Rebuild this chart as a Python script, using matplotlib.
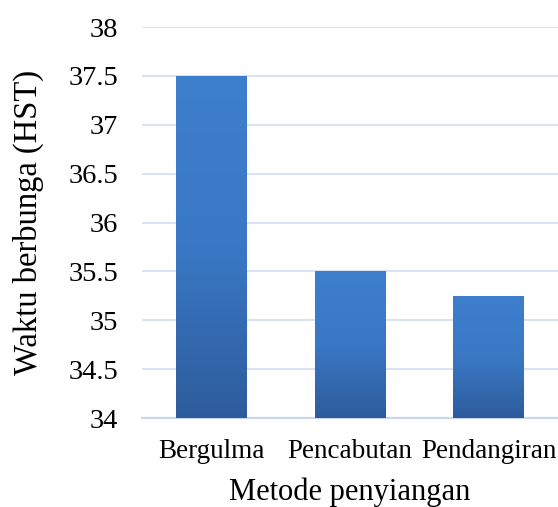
import numpy as np
import matplotlib.pyplot as plt
from matplotlib.colors import LinearSegmentedColormap

# data
categories = ["Bergulma", "Pencabutan", "Pendangiran"]
values = [37.5, 35.5, 35.25]
yticks = [34, 34.5, 35, 35.5, 36, 36.5, 37, 37.5, 38]

plt.rcParams['font.family'] = ['Liberation Serif', 'DejaVu Serif']

fig = plt.figure(figsize=(5.58, 5.07), dpi=100)
ax = fig.add_axes([0.2545, 0.1755, 0.7455, 0.7712])

x = np.arange(len(categories))
bars = ax.bar(x, [v - 34 for v in values], bottom=34, width=0.51,
              color="none", edgecolor="none", zorder=3)

# vertical gradient fill, light at top, dark at bottom
cmap = LinearSegmentedColormap.from_list("bar", ["#2d5c9c", "#3a78c5", "#3d7fcd"])
grad = np.linspace(0, 1, 256).reshape(-1, 1)
for b in bars:
    x0, y0 = b.get_x(), b.get_y()
    w, h = b.get_width(), b.get_height()
    im = ax.imshow(grad, cmap=cmap, origin="lower", aspect="auto",
                   extent=[x0, x0 + w, y0, y0 + h], zorder=3)
    im.set_clip_path(b)

ax.set_xlim(-0.5, 2.5)
ax.set_ylim(34, 38)
ax.set_yticks(yticks)
ax.set_yticklabels([f"{t:g}" for t in yticks], fontsize=20.5)
ax.set_xticks(x)
ax.set_xticklabels(categories, fontsize=19.5)
ax.tick_params(length=0)
ax.tick_params(axis="y", pad=17)
ax.tick_params(axis="x", pad=15)

ax.yaxis.grid(True, color="#d9e3f3", linewidth=1.5, zorder=0)
ax.set_axisbelow(True)
for s in ["top", "right", "left"]:
    ax.spines[s].set_visible(False)
ax.spines["bottom"].set_color("#c9d7ee")
ax.spines["bottom"].set_linewidth(1.5)

ax.set_xlabel("Metode penyiangan", fontsize=22, labelpad=10)
ax.set_ylabel("Waktu berbunga (HST)", fontsize=23.5, labelpad=18)

fig.savefig("out.png", dpi=100)
